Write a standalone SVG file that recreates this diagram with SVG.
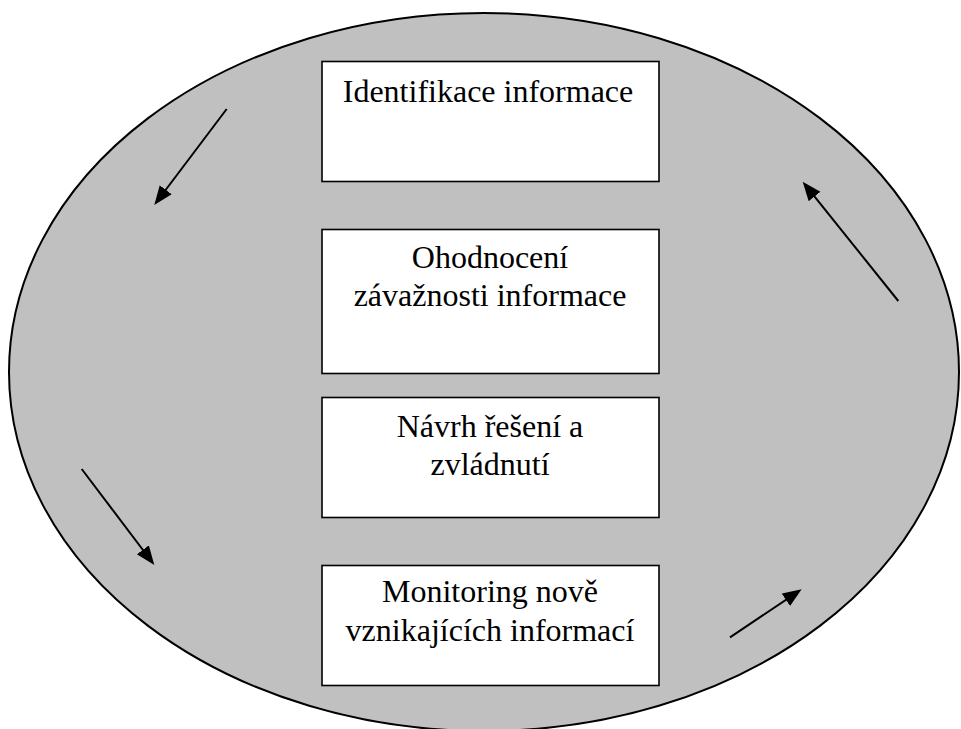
<svg xmlns="http://www.w3.org/2000/svg" width="961" height="729" viewBox="0 0 961 729">
  <style>
    .cycle { fill: #c0c0c0; stroke: #000; stroke-width: 2; }
    .box { fill: #fff; stroke: #000; stroke-width: 1.6; }
    .label { font-family: "Liberation Serif", "Times New Roman", serif; font-size: 32px; fill: #000; text-anchor: middle; }
    .flow { stroke: #000; stroke-width: 2; fill: none; marker-end: url(#head); }
  </style>
  <defs>
    <marker id="head" markerUnits="userSpaceOnUse" markerWidth="20" markerHeight="16" refX="14" refY="7.5" orient="auto">
      <path d="M0,0 L19,7.5 L0,15 Z" fill="#000"/>
    </marker>
  </defs>
  <rect width="961" height="729" fill="#fff"/>
  <!-- background cycle -->
  <ellipse class="cycle" cx="484" cy="372" rx="475" ry="359"/>

  <g id="identifikace">
    <rect class="box" x="322" y="61.5" width="337" height="120"/>
    <text class="label" x="488" y="102">Identifikace informace</text>
  </g>
  <g id="ohodnoceni">
    <rect class="box" x="322" y="229.5" width="337" height="144"/>
    <text class="label" x="490" y="268">Ohodnocení</text>
    <text class="label" x="490" y="306">závažnosti informace</text>
  </g>
  <g id="navrh">
    <rect class="box" x="322" y="397.5" width="337" height="120"/>
    <text class="label" x="490" y="437">Návrh řešení a</text>
    <text class="label" x="490" y="475">zvládnutí</text>
  </g>
  <g id="monitoring">
    <rect class="box" x="322" y="565.5" width="337" height="120"/>
    <text class="label" x="490" y="602">Monitoring nově</text>
    <text class="label" x="490" y="641">vznikajících informací</text>
  </g>

  <g id="connectors">
    <line class="flow" x1="226.7" y1="109" x2="157.3" y2="201"/>
    <line class="flow" x1="898.3" y1="301" x2="805.8" y2="185.6"/>
    <line class="flow" x1="81.7" y1="469" x2="151.3" y2="561"/>
    <line class="flow" x1="730" y1="637.3" x2="797.5" y2="592.1"/>
  </g>
</svg>
